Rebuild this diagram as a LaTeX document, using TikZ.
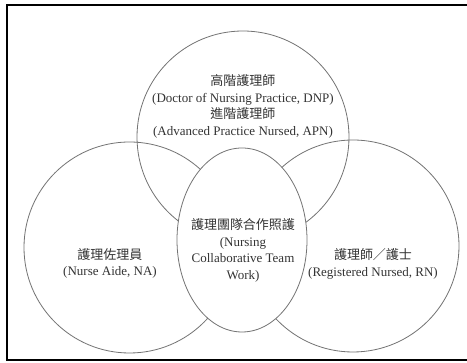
\documentclass[tikz,border=0pt]{standalone}
\usepackage{fontspec}
\setmainfont{Liberation Serif}
\newfontfamily\cjk{Noto Sans CJK TC}
\usetikzlibrary{shapes.geometric}
\begin{document}
\begin{tikzpicture}[x=1pt,y=1pt,
  venn/.style={circle,draw=black!55,line width=0.8pt,inner sep=0pt,minimum size=#1},
  lbl/.style={align=center,text=black!80,font=\fontsize{13}{16.8}\selectfont,inner sep=0pt}]
\useasboundingbox (0,0) rectangle (467,363);
\fill[white] (0,0) rectangle (467,363);
\draw[line width=2pt] (475,357.5) -- (7,357.5) -- (7,2.5) -- (475,2.5);
\node[venn=212pt] (top) at (243,226) {};
\node[venn=211pt] (left) at (129.5,115.5) {};
\node[venn=212pt] (right) at (353,117) {};
\node[ellipse,draw=black!55,fill=white,line width=0.8pt,inner sep=0pt,minimum width=130pt,minimum height=184pt] (mid) at (242,123) {};
\node[lbl] (ttop) at (243,256.5) {{\cjk 高階護理師}\\(Doctor of Nursing Practice, DNP)\\{\cjk 進階護理師}\\(Advanced Practice Nursed, APN)};
\node[lbl] (tleft) at (110,99.5) {{\cjk 護理佐理員}\\(Nurse Aide, NA)};
\node[lbl] (tright) at (373,99) {{\cjk 護理師／護士}\\(Registered Nursed, RN)};
\node[lbl] (tmid) at (243,112.5) {{\cjk 護理團隊合作照護}\\(Nursing\\Collaborative Team\\Work)};
\end{tikzpicture}
\end{document}
